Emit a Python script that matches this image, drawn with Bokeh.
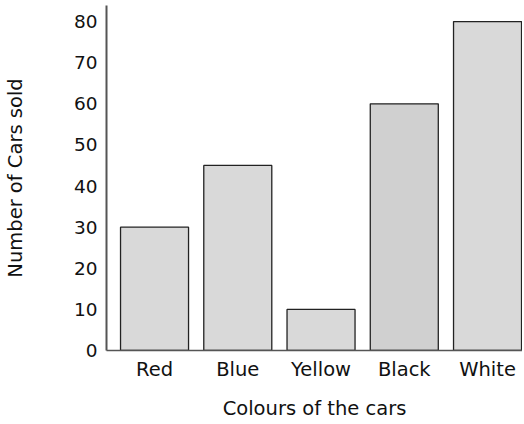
from bokeh.plotting import figure
from bokeh.models import ColumnDataSource, Range1d, FixedTicker
from bokeh.embed import file_html
from bokeh.resources import INLINE

colours = ["Red", "Blue", "Yellow", "Black", "White"]
cars_sold = [30, 45, 10, 60, 80]
y_ticks = [0, 10, 20, 30, 40, 50, 60, 70, 80]

fills = ["#d9d9d9", "#d9d9d9", "#d9d9d9", "#d0d0d0", "#d9d9d9"]
FONT = "DejaVu Sans"

idx = list(range(len(colours)))
src = ColumnDataSource(dict(x=idx, top=cars_sold, fill=fills))

p = figure(frame_width=416, frame_height=345, output_backend="svg", toolbar_location=None,
           x_range=Range1d(-0.577, 4.42), y_range=Range1d(0, 83.9),
           min_border_left=104, min_border_right=0, min_border_top=5, min_border_bottom=0)
p.outline_line_color = None
p.grid.visible = False
p.background_fill_color = "white"

p.vbar(x="x", top="top", bottom=0, width=0.817, source=src,
       fill_color="fill", line_color="#222222", line_width=1.3)

# x axis
p.xaxis.ticker = FixedTicker(ticks=idx)
p.xaxis.major_label_overrides = {i: c for i, c in zip(idx, colours)}
p.xaxis.axis_label = "Colours of the cars"
p.xaxis.axis_line_color = "#555555"
p.xaxis.axis_line_width = 1.5
p.xaxis.major_label_standoff = 7
p.xaxis.axis_label_standoff = 13
p.xaxis.major_label_text_font_size = "19.5px"

# y axis
p.yaxis.ticker = FixedTicker(ticks=y_ticks)
p.yaxis.axis_label = "Number of Cars sold"
p.yaxis.axis_line_color = "#555555"
p.yaxis.axis_line_width = 2
p.yaxis.major_label_standoff = 9
p.yaxis.axis_label_standoff = 44
p.yaxis.major_label_text_font_size = "18.5px"

for ax in (p.xaxis, p.yaxis):
    ax.major_tick_line_color = None
    ax.minor_tick_line_color = None
    ax.major_tick_out = 0
    ax.major_tick_in = 0
    ax.minor_tick_out = 0
    ax.minor_tick_in = 0
    ax.major_label_text_font = FONT
    ax.major_label_text_color = "#111111"
    ax.axis_label_text_font = FONT
    ax.axis_label_text_font_size = "19.5px"
    ax.axis_label_text_font_style = "normal"
    ax.axis_label_text_color = "#111111"

open("out.html", "w").write(file_html(p, INLINE))
